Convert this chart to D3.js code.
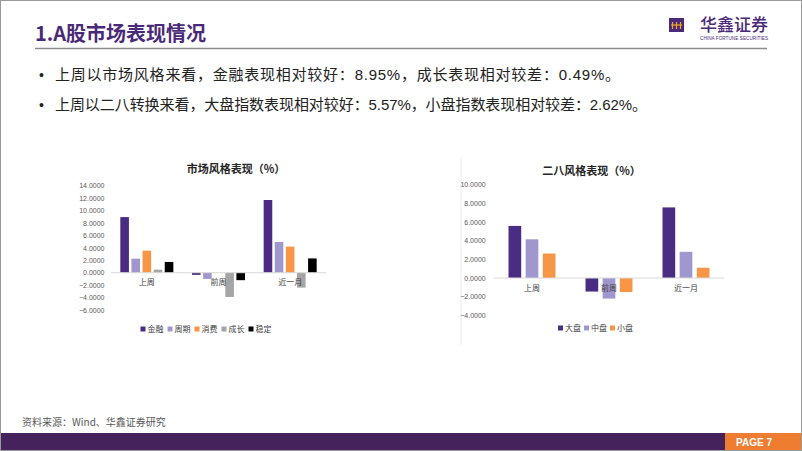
<!DOCTYPE html>
<html><head><meta charset="utf-8">
<script src="https://cdn.jsdelivr.net/npm/d3@7"></script>
<style>
html,body{margin:0;padding:0;background:#fff;}
text{font-family:"Liberation Sans","Noto Sans CJK SC",sans-serif;}
</style></head>
<body>
<svg id="c" width="802" height="451"></svg>
<script>
// ---- data ----
const styleCategories = ["上周", "前周", "近一月"];
const styleSeries = ["金融", "周期", "消费", "成长", "稳定"];
const styleValues = [
  [8.95, 2.26, 3.55, 0.49, 1.73],    // 上周
  [-0.35, -1.00, 0.03, -3.90, -1.20], // 前周
  [11.70, 4.95, 4.20, -2.40, 2.30]    // 近一月
];
const styleTicks = [-6, -4, -2, 0, 2, 4, 6, 8, 10, 12, 14];

const sizeCategories = ["上周", "前周", "近一月"];
const sizeSeries = ["大盘", "中盘", "小盘"];
const sizeValues = [
  [5.57, 4.14, 2.62],
  [-1.45, -2.20, -1.50],
  [7.55, 2.80, 1.10]
];
const sizeTicks = [-4, -2, 0, 2, 4, 6, 8, 10];

const bullets = [
  "上周以市场风格来看，金融表现相对较好：8.95%，成长表现相对较差：0.49%。",
  "上周以二八转换来看，大盘指数表现相对较好：5.57%，小盘指数表现相对较差：2.62%。"
];

// ---- styles ----
const styleColors = ["#4b2c83", "#a197cf", "#f79646", "#a5a5a5", "#000000"];
const sizeColors = ["#4b2c83", "#a197cf", "#f79646"];
const purple = "#4a2a78";
const bulletWidths = [565, 592];

const svg = d3.select("#c");

// slide frame
svg.append("rect").attr("x",0.5).attr("y",0.5).attr("width",801).attr("height",450)
  .attr("fill","#fff").attr("stroke","#9a9a9a");

// header
svg.append("text").attr("x",35).attr("y",41).attr("fill",purple)
  .attr("font-size",20).attr("font-weight",700)
  .style("font-family","'Noto Sans CJK SC',sans-serif")
  .text("1.A股市场表现情况");
svg.append("line").attr("x1",35).attr("x2",767).attr("y1",48.5).attr("y2",48.5)
  .attr("stroke","#8c8c8c").attr("stroke-width",1.5);

// logo
const logo = svg.append("g");
logo.append("rect").attr("x",669).attr("y",18).attr("width",15).attr("height",14).attr("fill","#4a2a78");
[672.5, 676.5, 680.5].forEach(x=>{
  logo.append("line").attr("x1",x).attr("x2",x).attr("y1",22).attr("y2",29).attr("stroke","#f5a623").attr("stroke-width",1.2);
});
logo.append("line").attr("x1",671).attr("x2",682).attr("y1",25).attr("y2",25).attr("stroke","#f5a623").attr("stroke-width",1.2);
logo.append("text").attr("x",700).attr("y",31).attr("fill",purple).attr("font-size",17)
  .style("font-family","'Noto Sans CJK SC',sans-serif").attr("font-weight",500).text("华鑫证券");
logo.append("text").attr("x",700).attr("y",40).attr("fill",purple).attr("font-size",4.6)
  .attr("textLength",68).text("CHINA FORTUNE SECURITIES");

// bullets
bullets.forEach((t,i)=>{
  const y = 80 + i*30;
  svg.append("text").attr("x",39).attr("y",y).attr("font-size",14).attr("fill","#222").text("•");
  svg.append("text").attr("x",55).attr("y",y).attr("font-size",15).attr("fill","#222")
    .attr("textLength",bulletWidths[i]).attr("lengthAdjust","spacing").text(t);
});

// footer
svg.append("text").attr("x",22).attr("y",426).attr("font-size",10).attr("fill","#595959")
  .style("font-family","'Noto Sans CJK SC',sans-serif").text("资料来源：Wind、华鑫证券研究");
svg.append("rect").attr("x",1).attr("y",433).attr("width",724).attr("height",17).attr("fill","#46225c");
svg.append("rect").attr("x",725).attr("y",433).attr("width",76).attr("height",17).attr("fill","#ee7d31");
svg.append("text").attr("x",736).attr("y",446).attr("font-size",10).attr("font-weight",700)
  .attr("fill","#fff").text("PAGE 7");

// generic grouped bar chart
function drawChart(o){
  const g = svg.append("g");
  const x0 = d3.scaleBand().domain(o.categories).range([o.x0, o.x1]).padding(0);
  const bw = x0.bandwidth();
  const span = bw * o.groupFrac;
  const x1 = d3.scaleBand().domain(o.series).range([(bw-span)/2, (bw+span)/2])
    .paddingInner(o.barPad).paddingOuter(0);
  const y = d3.scaleLinear().domain(o.domain).range([o.yBottom, o.yTop]);

  // y axis labels
  const ya = g.append("g").attr("transform",`translate(${o.labelRight},0)`)
    .call(d3.axisLeft(y).tickValues(o.ticks).tickFormat(d3.format(".4f")).tickSize(0).tickPadding(0));
  ya.select(".domain").remove();
  ya.selectAll("text").attr("font-size",7).attr("fill","#595959")
    .style("font-family","'Liberation Sans',sans-serif");

  // bars
  o.categories.forEach((c,ci)=>{
    o.series.forEach((s,si)=>{
      const v = o.values[ci][si];
      g.append("rect")
        .attr("x", x0(c) + x1(s))
        .attr("width", x1.bandwidth())
        .attr("y", y(Math.max(0,v)))
        .attr("height", Math.abs(y(v)-y(0)))
        .attr("fill", o.colors[si]);
    });
  });

  // zero line
  g.append("line").attr("x1",o.x0).attr("x2",o.x1).attr("y1",y(0)).attr("y2",y(0))
    .attr("stroke","#d9d9d9").attr("stroke-width",1);

  // category labels
  const xa = g.append("g").attr("transform",`translate(0,${y(0)+o.catOffset})`)
    .call(d3.axisBottom(x0).tickSize(0).tickPadding(0));
  xa.select(".domain").remove();
  xa.selectAll("text").attr("font-size",8).attr("fill","#404040")
    .style("font-family","'Noto Sans CJK SC',sans-serif");

  // title
  g.append("text").attr("x",o.titleX).attr("y",o.titleY).attr("text-anchor","middle")
    .attr("font-size",11).attr("font-weight",700).attr("fill","#262626")
    .style("font-family","'Noto Sans CJK SC',sans-serif").text(o.title);

  // legend
  o.series.forEach((s,si)=>{
    const lx = o.legendX + si*o.legendStep;
    g.append("rect").attr("x",lx).attr("y",o.legendY-2.5).attr("width",5).attr("height",5).attr("fill",o.colors[si]);
    g.append("text").attr("x",lx+7).attr("y",o.legendY+3).attr("font-size",8).attr("fill","#404040")
      .style("font-family","'Noto Sans CJK SC',sans-serif").text(s);
  });
}

drawChart({
  categories: styleCategories, series: styleSeries, values: styleValues, colors: styleColors,
  ticks: styleTicks, domain: [-6, 14], yBottom: 310, yTop: 185.7,
  x0: 111, x1: 326, groupFrac: 0.74, barPad: 0.225, labelRight: 104.5, catOffset: 7,
  title: "市场风格表现（%）", titleX: 236, titleY: 173,
  legendX: 140.5, legendStep: 27, legendY: 329
});

svg.append("line").attr("x1",461).attr("x2",461).attr("y1",157).attr("y2",345)
  .attr("stroke","#ececec");

drawChart({
  categories: sizeCategories, series: sizeSeries, values: sizeValues, colors: sizeColors,
  ticks: sizeTicks, domain: [-4, 10], yBottom: 315.4, yTop: 184.5,
  x0: 493.5, x1: 724.5, groupFrac: 0.61, barPad: 0.26, labelRight: 485.7, catOffset: 7,
  title: "二八风格表现（%）", titleX: 591.5, titleY: 175,
  legendX: 558, legendStep: 26, legendY: 328
});
</script>
</body></html>
